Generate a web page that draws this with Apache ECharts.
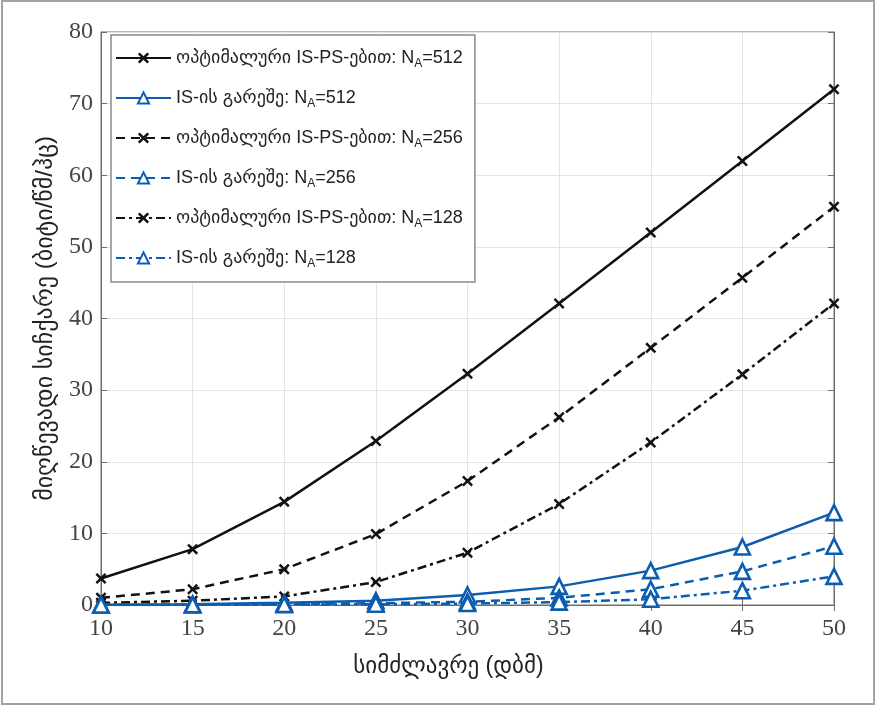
<!DOCTYPE html>
<html>
<head>
<meta charset="utf-8">
<script src="https://cdn.jsdelivr.net/npm/echarts@6/dist/echarts.min.js"></script>
<style>
html,body{margin:0;padding:0;background:#fff;}
#chart{width:876px;height:706px;position:absolute;left:0;top:0;}
#frame{position:absolute;left:1px;top:0px;width:874px;height:705px;border:2px solid #a3a3a3;box-sizing:border-box;pointer-events:none;}
</style>
</head>
<body>
<div id="chart"></div>
<div id="frame"></div>
<script>
const xValues = [10, 15, 20, 25, 30, 35, 40, 45, 50];
const optIsPs512 = [3.7, 7.8, 14.4, 22.9, 32.3, 42.1, 52.0, 62.0, 72.0];
const noIs512 = [0.05, 0.12, 0.3, 0.6, 1.4, 2.6, 4.8, 8.1, 12.9];
const optIsPs256 = [1.0, 2.2, 5.0, 9.9, 17.3, 26.2, 35.9, 45.7, 55.6];
const noIs256 = [0.02, 0.05, 0.12, 0.25, 0.45, 1.0, 2.2, 4.7, 8.2];
const optIsPs128 = [0.3, 0.6, 1.2, 3.2, 7.3, 14.1, 22.7, 32.2, 42.1];
const noIs128 = [0.01, 0.02, 0.05, 0.1, 0.2, 0.4, 0.8, 2.0, 4.0];
const seriesNames = [
  'ოპტიმალური IS-PS-ებით: N_A=512',
  'IS-ის გარეშე: N_A=512',
  'ოპტიმალური IS-PS-ებით: N_A=256',
  'IS-ის გარეშე: N_A=256',
  'ოპტიმალური IS-PS-ებით: N_A=128',
  'IS-ის გარეშე: N_A=128'
];
const xTitle = 'სიმძლავრე (დბმ)';
const yTitle = 'მიღწევადი სიჩქარე (ბიტი/წმ/ჰც)';

const BLACK = '#111111';
const BLUE = '#0b5db0';
const GEO = '"Liberation Sans", "DejaVu Sans", sans-serif';
const SERIF = '"Liberation Serif", "DejaVu Serif", serif';
const XSYM = 'path://M0,1.6L1.6,0L5,3.4L8.4,0L10,1.6L6.6,5L10,8.4L8.4,10L5,6.6L1.6,10L0,8.4L3.4,5Z';

function pair(a){ return xValues.map((x,i)=>[x,a[i]]); }

const dataSets = [optIsPs512, noIs512, optIsPs256, noIs256, optIsPs128, noIs128];
const dashTypes = ['solid','solid',[9,6],[9,6],[9,4,3,4],[9,4,3,4]];

const series = dataSets.map((d,i)=>{
  const isBlack = i % 2 === 0;
  const c = isBlack ? BLACK : BLUE;
  return {
    name: seriesNames[i],
    type: 'line',
    data: pair(d),
    symbol: isBlack ? XSYM : 'triangle',
    symbolSize: isBlack ? 11 : 15,
    showAllSymbol: true,
    z: isBlack ? 3 : 4,
    lineStyle: {color: c, width: 2.5, type: dashTypes[i]},
    itemStyle: isBlack ? {color: c} : {color: '#ffffff', borderColor: c, borderWidth: 2.6},
    emphasis: {disabled: true},
    animation: false
  };
});

const chart = echarts.init(document.getElementById('chart'), null, {renderer:'canvas'});
chart.setOption({
  backgroundColor: '#ffffff',
  animation: false,
  grid: {left: 101, right: 42, top: 32, bottom: 101, show: true, borderColor: '#6e6e6e', borderWidth: 1},
  legend: {
    orient: 'vertical',
    left: 111, top: 35,
    padding: [11, 12, 12, 4],
    itemWidth: 55, itemHeight: 14, itemGap: 16,
    backgroundColor: '#ffffff',
    borderColor: '#8a8a8a', borderWidth: 1.5,
    data: seriesNames,
    formatter: function(n){
      const p = n.split('N_A');
      return '{a|' + p[0] + 'N}{s|A}{a|' + p[1] + '}';
    },
    textStyle: {
      color: '#222',
      rich: {
        a: {fontFamily: GEO, fontSize: 18, color: '#222', lineHeight: 22, verticalAlign: 'middle'},
        s: {fontFamily: GEO, fontSize: 12, color: '#222', lineHeight: 22, padding: [12,0,0,0], verticalAlign: 'middle'}
      }
    }
  },
  xAxis: [{
    type: 'value', min: 10, max: 50, interval: 5,
    name: xTitle, nameLocation: 'middle', nameGap: 50,
    nameTextStyle: {fontFamily: GEO, fontSize: 23, color: '#222', padding: [0, 38, 0, 0]},
    axisLine: {show: true, lineStyle: {color: '#6e6e6e', width: 1}},
    axisTick: {show: true, inside: true, length: 6, lineStyle: {color: '#6e6e6e'}},
    axisLabel: {fontFamily: SERIF, fontSize: 24, color: '#444', margin: 12},
    splitLine: {show: true, lineStyle: {color: '#e4e4e4', width: 1}}
  },{
    type: 'value', min: 10, max: 50, interval: 5, position: 'top',
    axisLine: {show: true, lineStyle: {color: '#6e6e6e'}},
    axisTick: {show: true, inside: true, length: 6, lineStyle: {color: '#6e6e6e'}},
    axisLabel: {show: false}, splitLine: {show: false}
  }],
  yAxis: [{
    type: 'value', min: 0, max: 80, interval: 10,
    name: yTitle, nameLocation: 'middle', nameGap: 44, nameRotate: 90,
    nameTextStyle: {fontFamily: GEO, fontSize: 24, color: '#222'},
    axisLine: {show: true, lineStyle: {color: '#6e6e6e', width: 1}},
    axisTick: {show: true, inside: true, length: 6, lineStyle: {color: '#6e6e6e'}},
    axisLabel: {fontFamily: SERIF, fontSize: 24, color: '#444', margin: 8},
    splitLine: {show: true, lineStyle: {color: '#e4e4e4', width: 1}}
  },{
    type: 'value', min: 0, max: 80, interval: 10, position: 'right',
    axisLine: {show: true, lineStyle: {color: '#6e6e6e'}},
    axisTick: {show: true, inside: true, length: 6, lineStyle: {color: '#6e6e6e'}},
    axisLabel: {show: false}, splitLine: {show: false}
  }],
  series: series
});
</script>
</body>
</html>
